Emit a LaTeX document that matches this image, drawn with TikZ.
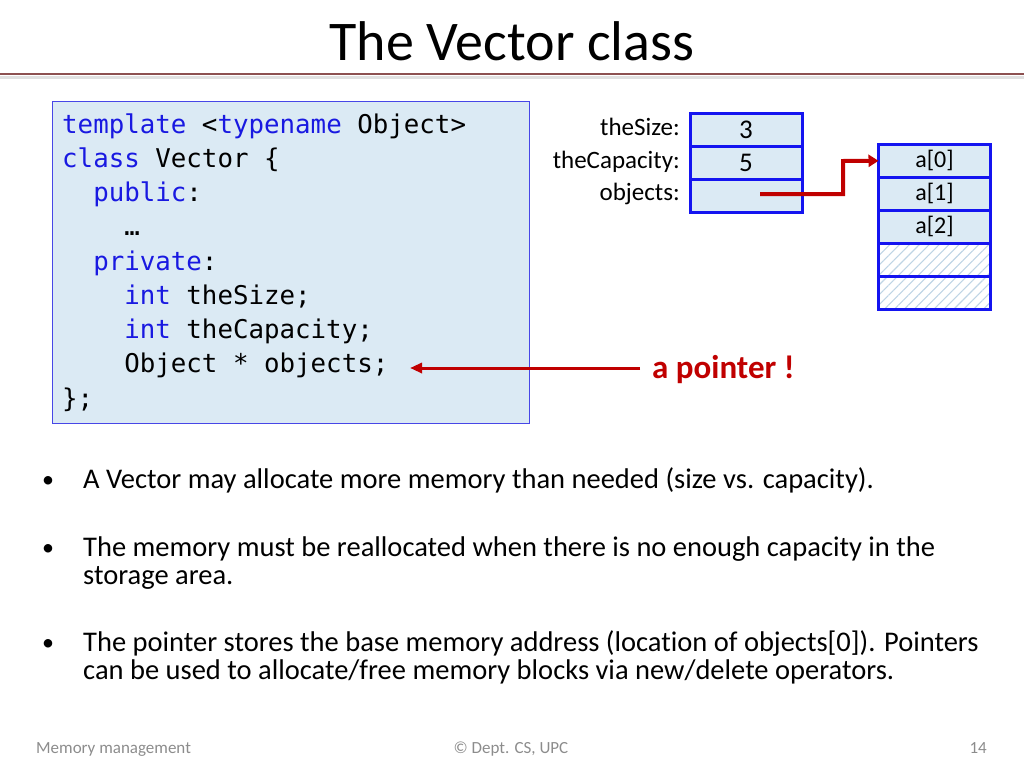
\documentclass[tikz,border=0pt]{standalone}
\usepackage{fontspec}
\setmainfont{Carlito}[Ligatures=NoCommon]
\setmonofont{DejaVu Sans Mono}
\usepackage{tikz}
\usetikzlibrary{arrows.meta}
\usetikzlibrary{positioning}
\usetikzlibrary{patterns.meta}

\definecolor{cellfill}{RGB}{219,234,244}
\definecolor{cellline}{RGB}{20,20,240}
\definecolor{hatch}{RGB}{190,212,228}
\definecolor{kwblue}{RGB}{25,25,225}
\definecolor{ptrred}{RGB}{192,0,0}
\definecolor{rulered}{RGB}{140,80,80}
\definecolor{footgray}{RGB}{140,140,140}

\newcommand{\kw}[1]{\textcolor{kwblue}{#1}}

\tikzset{
    codeline/.style={anchor=base west, inner sep=0pt,
                     font=\fontsize{25.8}{25.8}\selectfont\ttfamily},
    memlabel/.style={anchor=base east, inner sep=0pt,
                     font=\fontsize{25}{25}\selectfont},
    memcell/.style={draw=cellline, line width=3pt, fill=cellfill,
                    minimum width=112pt, minimum height=33pt,
                    outer sep=0pt, inner sep=0pt,
                    font=\fontsize{24}{24}\selectfont},
    freecell/.style={memcell, fill=white,
                     pattern={Lines[angle=45,distance=7pt,line width=1.1pt]},
                     pattern color=hatch},
    bullet/.style={anchor=base west, inner sep=0pt, align=left,
                   font=\fontsize{28.5}{28}\selectfont},
    dot/.style={anchor=base, inner sep=0pt,
                font=\fontsize{24}{24}\selectfont},
    foot/.style={anchor=base, inner sep=0pt, text=footgray,
                 font=\fontsize{17}{17}\selectfont},
}

\begin{document}
\begin{tikzpicture}[x=1pt, y=-1pt, node distance=0pt]
\useasboundingbox (0,0) rectangle (1024,768);

% title
\node[anchor=base, inner sep=0pt, font=\fontsize{56}{56}\selectfont]
    (title) at (512,60) {The Vector class};
\draw[rulered, line width=2pt] (0,74) -- (1024,74);
\draw[black!12, line width=3pt] (0,77.5) -- (1024,77.5);

% code box
\draw[draw=kwblue!80, fill=cellfill, line width=1pt] (52,101) rectangle (529,423);
\node[codeline] (l1) at (62,133)    {\kw{template} <\kw{typename} Object>};
\node[codeline] (l2) at (62,167.25) {\kw{class} Vector \{};
\node[codeline] (l3) at (62,201.5)  {\phantom{xx}\kw{public}:};
\node[codeline] (l4) at (62,235.75) {\phantom{xxxx}…};
\node[codeline] (l5) at (62,270)    {\phantom{xx}\kw{private}:};
\node[codeline] (l6) at (62,304.25) {\phantom{xxxx}\kw{int} theSize;};
\node[codeline] (l7) at (62,338.5)  {\phantom{xxxx}\kw{int} theCapacity;};
\node[codeline] (l8) at (62,372.75) {\phantom{xxxx}Object * objects;};
\node[codeline] (l9) at (62,407)    {\};};

% vector fields
\node[memcell, font=\fontsize{27}{27}\selectfont] (size) at (746,129.5) {3};
\node[memcell, font=\fontsize{27}{27}\selectfont, below=of size] (cap) {5};
\node[memcell, below=of cap] (obj) {};
\node[memlabel] at (680,135) {theSize:};
\node[memlabel] at (680,168) {theCapacity:};
\node[memlabel] at (680,200) {objects:};

% allocated array
\node[memcell] (a0) at (934.5,160.8) {a[0]};
\node[memcell, below=of a0] (a1) {a[1]};
\node[memcell, below=of a1] (a2) {a[2]};
\node[freecell, below=of a2] (a3) {};
\node[freecell, below=of a3] (a4) {};

% pointer
\coordinate (ptr) at (760,194);
\draw[ptrred, line width=4pt, -{Triangle[length=10pt,width=12pt]}]
    (ptr) -| (843,161) -- (a0.west);

% annotation
\node[anchor=base west, inner sep=0pt, text=ptrred,
      font=\fontsize{33}{33}\selectfont\bfseries] (note) at (652,378) {a pointer !};
\coordinate (target) at (410,368);
\draw[ptrred, line width=3pt, -{Triangle[length=12pt,width=10pt]}]
    (640,368) -- (target);

% bullets
\node[bullet] (b1) at (83,488) {A Vector may allocate more memory than needed (size vs. capacity).};
\node[bullet] (b2) at (83,584) {The memory must be reallocated when there is no enough capacity in the\\storage area.};
\node[bullet] (b3) at (83,679) {The pointer stores the base memory address (location of objects[0]). Pointers\\can be used to allocate/free memory blocks via new/delete operators.};
\node[dot] at (48,487) {•};
\node[dot] at (48,555) {•};
\node[dot] at (48,650) {•};

% footer
\node[foot, anchor=base west] (f1) at (36,753) {Memory management};
\node[foot] (f2) at (511,753) {© Dept. CS, UPC};
\node[foot, anchor=base east] (f3) at (987,753) {14};
\end{tikzpicture}
\end{document}
